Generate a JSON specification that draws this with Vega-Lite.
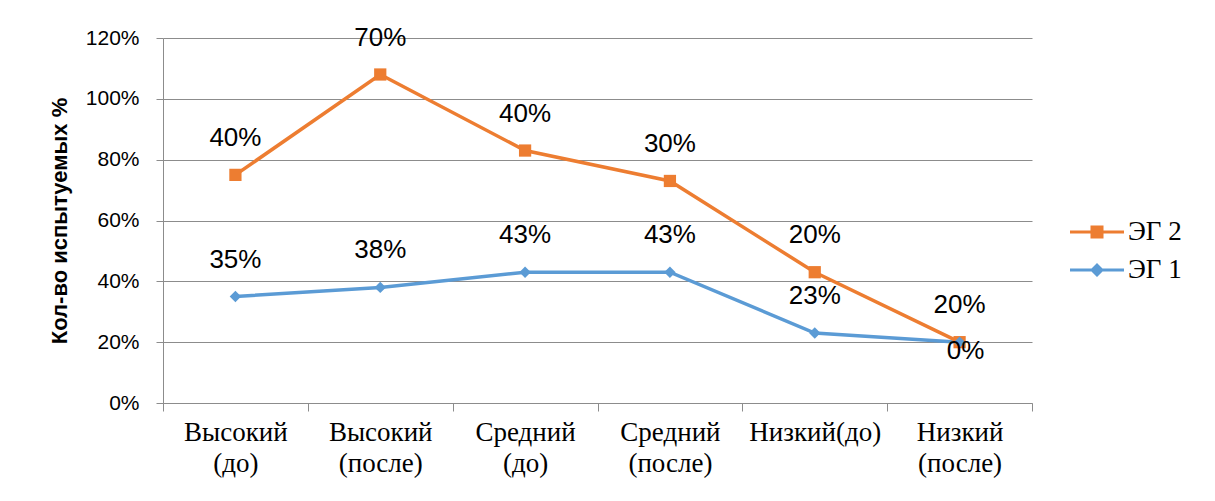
{
  "$schema": "https://vega.github.io/schema/vega-lite/v6.json",
  "autosize": {"type": "none"},
  "width": 869,
  "height": 365,
  "padding": {"left": 163, "top": 38, "right": 183, "bottom": 98},
  "background": "white",
  "config": {"view": {"stroke": null}},
  "data": {
    "values": [
      {"cat": "Высокий (до)", "series": "ЭГ 1", "value": 0.35},
      {"cat": "Высокий (после)", "series": "ЭГ 1", "value": 0.38},
      {"cat": "Средний (до)", "series": "ЭГ 1", "value": 0.43},
      {"cat": "Средний (после)", "series": "ЭГ 1", "value": 0.43},
      {"cat": "Низкий(до)", "series": "ЭГ 1", "value": 0.23},
      {"cat": "Низкий (после)", "series": "ЭГ 1", "value": 0.20},
      {"cat": "Высокий (до)", "series": "ЭГ 2", "value": 0.40},
      {"cat": "Высокий (после)", "series": "ЭГ 2", "value": 0.70},
      {"cat": "Средний (до)", "series": "ЭГ 2", "value": 0.40},
      {"cat": "Средний (после)", "series": "ЭГ 2", "value": 0.30},
      {"cat": "Низкий(до)", "series": "ЭГ 2", "value": 0.20},
      {"cat": "Низкий (после)", "series": "ЭГ 2", "value": 0.0}
    ]
  },
  "transform": [
    {"stack": "value", "groupby": ["cat"], "sort": [{"field": "series", "order": "ascending"}], "as": ["v0", "v1"]}
  ],
  "encoding": {
    "x": {
      "field": "cat", "type": "nominal", "sort": null, "title": null,
      "scale": {"paddingInner": 0, "paddingOuter": 0},
      "axis": {
        "labelAngle": 0, "tickBand": "extent", "tickSize": 8, "tickColor": "#8c8c8c",
        "domainColor": "#8c8c8c", "labelFont": "Liberation Serif", "labelFontSize": 27,
        "labelColor": "#000", "labelPadding": 8, "labelLineHeight": 31,
        "labelExpr": "split(datum.label, ' ')", "grid": false
      }
    },
    "y": {
      "field": "v1", "type": "quantitative",
      "scale": {"domain": [0, 1.2], "nice": false},
      "axis": {
        "values": [0, 0.2, 0.4, 0.6, 0.8, 1.0, 1.2], "format": ".0%",
        "grid": true, "gridColor": "#8c8c8c", "domainColor": "#8c8c8c",
        "tickColor": "#8c8c8c", "tickSize": 7, "labelFont": "Liberation Sans",
        "labelFontSize": 21, "labelColor": "#000", "labelPadding": 17,
        "title": "Кол-во испытуемых %", "titleFont": "Liberation Sans",
        "titleFontSize": 22, "titleFontWeight": "bold", "titleColor": "#000",
        "titlePadding": 14
      }
    }
  },
  "layer": [
    {
      "mark": {"type": "line", "strokeWidth": 3.5},
      "encoding": {
        "color": {
          "field": "series", "type": "nominal",
          "scale": {"domain": ["ЭГ 2", "ЭГ 1"], "range": ["#ED7D31", "#5B9BD5"]},
          "legend": {
            "title": null, "orient": "none", "legendX": 909, "legendY": 169,
            "padding": 0, "rowPadding": 0, "symbolSize": 2500, "labelOffset": 6,
            "labelFont": "Liberation Serif", "labelFontSize": 27, "labelColor": "#000",
            "symbolStrokeWidth": 0,
            "encode": {
              "symbols": {
                "update": {
                  "shape": {"signal": "datum.value === 'ЭГ 2' ? 'M-1.08,-0.06H1.08V0.06H-1.08Z M-0.26,-0.26H0.26V0.26H-0.26Z' : 'M-1.08,-0.06H1.08V0.06H-1.08Z M0,-0.28L0.28,0L0,0.28L-0.28,0Z'"},
                  "fill": {"signal": "datum.value === 'ЭГ 2' ? '#ED7D31' : '#5B9BD5'"},
                  "stroke": {"value": "transparent"},
                  "strokeWidth": {"value": 0},
                  "opacity": {"value": 1}
                }
              }
            }
          }
        }
      }
    },
    {
      "transform": [{"filter": "datum.series === 'ЭГ 2'"}],
      "mark": {"type": "point", "filled": true, "opacity": 1, "shape": "square", "size": 150, "color": "#ED7D31"}
    },
    {
      "transform": [{"filter": "datum.series === 'ЭГ 1'"}],
      "mark": {"type": "point", "filled": true, "opacity": 1, "shape": "diamond", "size": 130, "color": "#5B9BD5"}
    },
    {
      "transform": [{"filter": "datum.value > 0"}],
      "mark": {"type": "text", "font": "Liberation Sans", "fontSize": 26, "dy": -37, "baseline": "middle", "color": "#000"},
      "encoding": {"text": {"field": "value", "type": "quantitative", "format": ".0%"}}
    },
    {
      "transform": [{"filter": "datum.value <= 0"}],
      "mark": {"type": "text", "font": "Liberation Sans", "fontSize": 26, "dy": 9, "dx": 6, "baseline": "middle", "color": "#000"},
      "encoding": {"text": {"field": "value", "type": "quantitative", "format": ".0%"}}
    }
  ]
}
